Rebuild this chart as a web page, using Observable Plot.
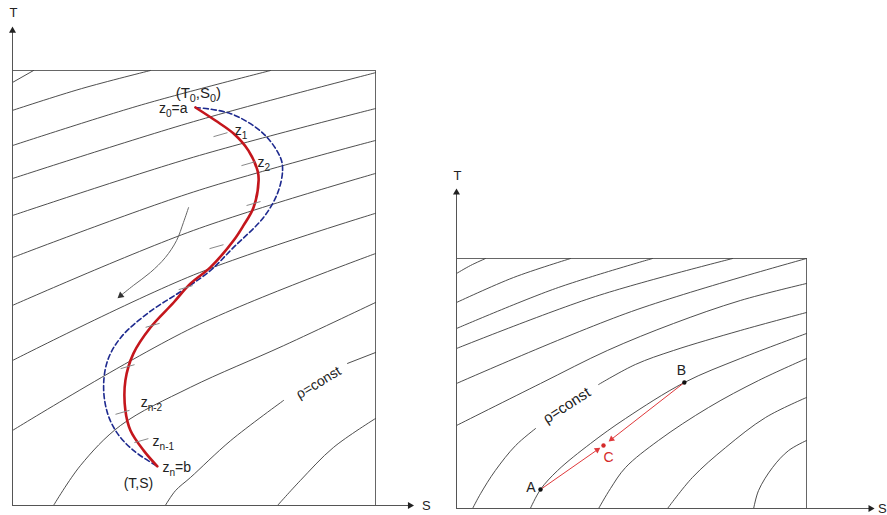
<!DOCTYPE html>
<html><head><meta charset="utf-8">
<script src="https://cdn.jsdelivr.net/npm/d3@7"></script>
<script src="https://cdn.jsdelivr.net/npm/@observablehq/plot@0.6"></script>
<style>
body{margin:0;background:#fff;}
#wrap{position:relative;width:887px;height:515px;overflow:hidden;font-family:"Liberation Sans",Arial,sans-serif;}
#left{position:absolute;left:0;top:0;}
#right{position:absolute;left:440px;top:0;}
</style></head><body><div id="wrap"><div id="left"></div><div id="right"></div></div>
<script>
// ---------- LEFT PANEL DATA (S, T in diagram units) ----------
const leftDomainS = [0, 10];
const leftDomainT = [0, 12];
const leftAxisEnd = {S: 10.95, T: 13.1};
const leftIsopycnals = [
  [[0,11.67],[0.58,12]],
  [[0,10.90],[1.90,11.50],[3.80,12]],
  [[0,9.93],[3.55,11.05],[7.11,12]],
  [[0,9.02],[4.99,10.59],[10,11.94]],
  [[0,8.00],[4.99,9.61],[10,10.95]],
  [[0,6.84],[4.99,8.65],[10,10.07]],
  [[0,5.52],[4.99,7.59],[10,9.16]],
  [[0,4.00],[4.99,6.36],[10,8.06]],
  [[0,2.07],[4.99,4.92],[10,6.95]],
  [[1.13,0],[1.87,1.10],[2.98,2.21],[4.90,3.26],[7.47,4.41],[10,5.60]],
  [[4.21,0],[4.49,0.41],[4.90,0.77],[6.01,1.79],[7.47,2.90]],
  [[9.23,3.92],[10,4.22]],
  [[7.30,0],[7.93,0.69],[8.84,1.60],[10,2.40]]
];
const redProfile = [
  [5.04,10.98],[5.59,10.62],[6.09,10.26],[6.50,9.79],[6.75,9.24],[6.78,8.97],
  [6.64,8.22],[6.36,7.72],[6.09,7.31],[5.45,6.57],[4.90,6.12],[4.44,5.60],
  [3.80,4.91],[3.33,4.19],[3.11,3.45],[3.11,2.62],[3.25,2.07],[3.61,1.52],[3.99,1.08]
];
const blueProfile = [
  [5.04,10.98],[6.01,10.81],[6.91,10.26],[7.38,9.60],[7.44,9.24],[7.30,8.61],
  [6.91,7.94],[6.09,7.12],[5.45,6.48],[4.77,5.99],[3.72,5.30],[2.98,4.63],
  [2.62,4.00],[2.51,3.26],[2.62,2.54],[2.89,1.99],[3.33,1.52],[3.99,1.08]
];
const levelTicks = [
  [5.73,10.23],[6.50,9.43],[6.64,8.33],[5.62,7.14],[4.77,6.01],
  [3.86,4.97],[3.17,3.83],[3.03,2.57],[3.55,1.79]
];
const flowArrow = [[4.85,8.22],[4.71,7.81],[4.52,7.31],[4.21,6.84],[3.80,6.43],[3.33,6.07],[2.98,5.79]];
const leftLabels = [
  {S:5.12, T:11.37, text:"(T_{0},S_{0})", anchor:"middle", size:15},
  {S:4.82, T:10.95, text:"z_{0}=a", anchor:"end", size:14},
  {S:6.12, T:10.34, text:"z_{1}", anchor:"start", size:14},
  {S:6.75, T:9.46, text:"z_{2}", anchor:"start", size:14},
  {S:3.53, T:2.84, text:"z_{n-2}", anchor:"start", size:14},
  {S:3.86, T:1.77, text:"z_{n-1}", anchor:"start", size:14},
  {S:4.13, T:1.05, text:"z_{n}=b", anchor:"start", size:14},
  {S:3.47, T:0.61, text:"(T,S)", anchor:"middle", size:14}
];
const leftRhoLabel = {S:8.43, T:3.39, text:"ρ=const", angle:-31};
const leftAxisLabels = [{S:0.03, T:13.6, text:"T"}, {S:11.4, T:0, text:"S"}];

// ---------- RIGHT PANEL DATA ----------
const rightDomainS = [0, 10];
const rightDomainT = [0, 10];
const rightAxisEnd = {S: 11.83, T: 12.64};
const rightIsopycnals = [
  [[0,9.4],[0.4,9.72],[0.83,10]],
  [[0,8.24],[1.63,9.24],[3.26,10]],
  [[0,7.2],[2.83,8.8],[5.6,10]],
  [[0,6.4],[3.97,8.48],[7.89,10]],
  [[0,5.0],[5.0,7.88],[10,10]],
  [[0,3.32],[2.4,5.0],[4.31,6.32],[6.2,7.4],[8.11,8.32],[10,9.0]],
  [[0.46,0],[0.69,0.6],[1.11,1.52],[1.69,2.52],[2.26,3.2]],
  [[4.06,4.96],[5.11,5.76],[6.2,6.32],[8.11,7.12],[10,7.84]],
  [[2.11,0],[2.4,0.76],[2.89,1.52],[3.83,2.6],[4.83,3.6],[6.51,5.04],[8.11,6.0],[10,7.0]],
  [[4.06,0],[4.4,0.8],[4.83,1.64],[5.77,2.72],[7.2,4.04],[8.63,5.12],[10,6.0]],
  [[6.03,0],[6.74,1.24],[7.69,2.44],[8.83,3.64],[10,4.44]],
  [[8.49,0],[8.63,0.72],[9.03,1.64],[9.49,2.32],[10,2.72]]
];
const waterMasses = [{name:"A", S:2.4, T:0.76}, {name:"B", S:6.51, T:5.04}];
const mixture = {name:"C", S:4.2, T:2.52};
const rightRhoLabel = {S:3.15, T:4.12, text:"ρ=const", angle:-33};
const rightAxisLabels = [{S:0.03, T:13.3, text:"T"}, {S:12.17, T:0, text:"S"}];

// ---------- helpers ----------
const FONT = '"Liberation Sans", Arial, sans-serif';
const toRows = (lines) => lines.flatMap((pts, i) => pts.map(([S, T]) => ({id: i, S, T})));
const toPts = (arr) => arr.map(([S, T]) => ({S, T}));
function applySubs(svg) {
  svg.querySelectorAll("text").forEach(t => {
    const s = t.textContent;
    if (!s.includes("_{")) return;
    t.textContent = "";
    let shifted = false;
    s.split(/(_\{[^}]*\})/).forEach(p => {
      if (!p) return;
      const ts = document.createElementNS("http://www.w3.org/2000/svg", "tspan");
      if (p.startsWith("_{")) {
        ts.textContent = p.slice(2, -1);
        ts.setAttribute("font-size", "72%");
        ts.setAttribute("dy", "4");
        shifted = true;
      } else {
        ts.textContent = p;
        if (shifted) { ts.setAttribute("dy", "-4"); shifted = false; }
      }
      t.appendChild(ts);
    });
  });
}
function headAngle(path, kx, ky) {
  const [a, b] = [path[path.length - 2], path[path.length - 1]];
  const dx = (b[0] - a[0]) * kx, dy = -(b[1] - a[1]) * ky;
  return Math.atan2(dx, -dy) * 180 / Math.PI;
}

// ---------- LEFT PLOT ----------
{
  const W = 440, H = 515, ml = 12, mr = 65, mt = 70, mb = 10;
  const kx = (W - ml - mr) / (leftDomainS[1] - leftDomainS[0]);
  const ky = (H - mt - mb) / (leftDomainT[1] - leftDomainT[0]);
  const ticks = levelTicks.map(([S, T]) => ({S1: S - 7 / kx, T1: T - 2 / ky, S2: S + 7 / kx, T2: T + 2 / ky}));
  const plot = Plot.plot({
    width: W, height: H, marginLeft: ml, marginRight: mr, marginTop: mt, marginBottom: mb,
    x: {domain: leftDomainS, axis: null},
    y: {domain: leftDomainT, axis: null},
    style: {fontFamily: FONT, background: "transparent", overflow: "visible"},
    marks: [
      Plot.frame({stroke: "#666", strokeWidth: 1}),
      Plot.line(toRows(leftIsopycnals), {x: "S", y: "T", z: "id", curve: "catmull-rom", stroke: "#3a3a3a", strokeWidth: 0.9}),
      Plot.ruleX([0], {y1: 0, y2: leftAxisEnd.T, stroke: "#555", strokeWidth: 1}),
      Plot.ruleY([0], {x1: 0, x2: leftAxisEnd.S, stroke: "#555", strokeWidth: 1}),
      Plot.dot([{S: 0, T: leftAxisEnd.T}], {x: "S", y: "T", symbol: "triangle", r: 2.6, fill: "#222", stroke: null, rotate: 0}),
      Plot.dot([{S: leftAxisEnd.S, T: 0}], {x: "S", y: "T", symbol: "triangle", r: 2.6, fill: "#222", stroke: null, rotate: 90}),
      Plot.line(toPts(flowArrow), {x: "S", y: "T", curve: "catmull-rom", stroke: "#666", strokeWidth: 1}),
      Plot.dot([flowArrow[flowArrow.length - 1]].map(([S, T]) => ({S, T})), {x: "S", y: "T", symbol: "triangle", r: 2.6, fill: "#333", stroke: null, rotate: headAngle(flowArrow, kx, ky)}),
      Plot.line(toPts(blueProfile), {x: "S", y: "T", curve: "catmull-rom", stroke: "#1e2a8f", strokeWidth: 1.6, strokeDasharray: "5,3"}),
      Plot.line(toPts(redProfile), {x: "S", y: "T", curve: "catmull-rom", stroke: "#c4161c", strokeWidth: 2.6}),
      Plot.link(ticks, {x1: "S1", y1: "T1", x2: "S2", y2: "T2", stroke: "#888", strokeWidth: 1}),
      ...leftLabels.map(l => Plot.text([l], {x: "S", y: "T", text: "text", textAnchor: l.anchor, fontSize: l.size, fill: "#222"})),
      Plot.text([leftRhoLabel], {x: "S", y: "T", text: "text", rotate: leftRhoLabel.angle, fontSize: 14, fill: "#222"}),
      Plot.text(leftAxisLabels, {x: "S", y: "T", text: "text", fontSize: 13, fill: "#222"})
    ]
  });
  applySubs(plot);
  document.getElementById("left").appendChild(plot);
}

// ---------- RIGHT PLOT ----------
{
  const W = 447, H = 515, ml = 16, mr = 81, mt = 258, mb = 7;
  const kx = (W - ml - mr) / (rightDomainS[1] - rightDomainS[0]);
  const ky = (H - mt - mb) / (rightDomainT[1] - rightDomainT[0]);
  const tipFrac = 0.1;
  const arrows = waterMasses.map(p => {
    const S2 = mixture.S + (p.S - mixture.S) * tipFrac, T2 = mixture.T + (p.T - mixture.T) * tipFrac;
    return {S1: p.S, T1: p.T, S2, T2, angle: headAngle([[p.S, p.T], [S2, T2]], kx, ky)};
  });
  const plot = Plot.plot({
    width: W, height: H, marginLeft: ml, marginRight: mr, marginTop: mt, marginBottom: mb,
    x: {domain: rightDomainS, axis: null},
    y: {domain: rightDomainT, axis: null},
    style: {fontFamily: FONT, background: "transparent", overflow: "visible"},
    marks: [
      Plot.frame({stroke: "#666", strokeWidth: 1}),
      Plot.line(toRows(rightIsopycnals), {x: "S", y: "T", z: "id", curve: "catmull-rom", stroke: "#3a3a3a", strokeWidth: 0.9}),
      Plot.ruleX([0], {y1: 0, y2: rightAxisEnd.T, stroke: "#555", strokeWidth: 1}),
      Plot.ruleY([0], {x1: 0, x2: rightAxisEnd.S, stroke: "#555", strokeWidth: 1}),
      Plot.dot([{S: 0, T: rightAxisEnd.T}], {x: "S", y: "T", symbol: "triangle", r: 2.6, fill: "#222", stroke: null, rotate: 0}),
      Plot.dot([{S: rightAxisEnd.S, T: 0}], {x: "S", y: "T", symbol: "triangle", r: 2.6, fill: "#222", stroke: null, rotate: 90}),
      Plot.link(arrows, {x1: "S1", y1: "T1", x2: "S2", y2: "T2", stroke: "#e0393b", strokeWidth: 1}),
      Plot.dot(arrows, {x: "S2", y: "T2", symbol: "triangle", r: 2.4, fill: "#e0393b", stroke: null, rotate: "angle"}),
      Plot.dot(waterMasses, {x: "S", y: "T", r: 2.2, fill: "#111", stroke: null}),
      Plot.dot([mixture], {x: "S", y: "T", r: 2.2, fill: "#d42a2a", stroke: null}),
      Plot.text([waterMasses[0]], {x: "S", y: "T", text: "name", textAnchor: "end", dx: -5, dy: -2, fontSize: 14, fill: "#222"}),
      Plot.text([waterMasses[1]], {x: "S", y: "T", text: "name", dx: -3, dy: -12, fontSize: 14, fill: "#222"}),
      Plot.text([mixture], {x: "S", y: "T", text: "name", dx: 5, dy: 12, fontSize: 14, fill: "#d42a2a"}),
      Plot.text([rightRhoLabel], {x: "S", y: "T", text: "text", rotate: rightRhoLabel.angle, fontSize: 15, fill: "#222"}),
      Plot.text(rightAxisLabels, {x: "S", y: "T", text: "text", fontSize: 13, fill: "#222"})
    ]
  });
  applySubs(plot);
  document.getElementById("right").appendChild(plot);
}
</script></body></html>
